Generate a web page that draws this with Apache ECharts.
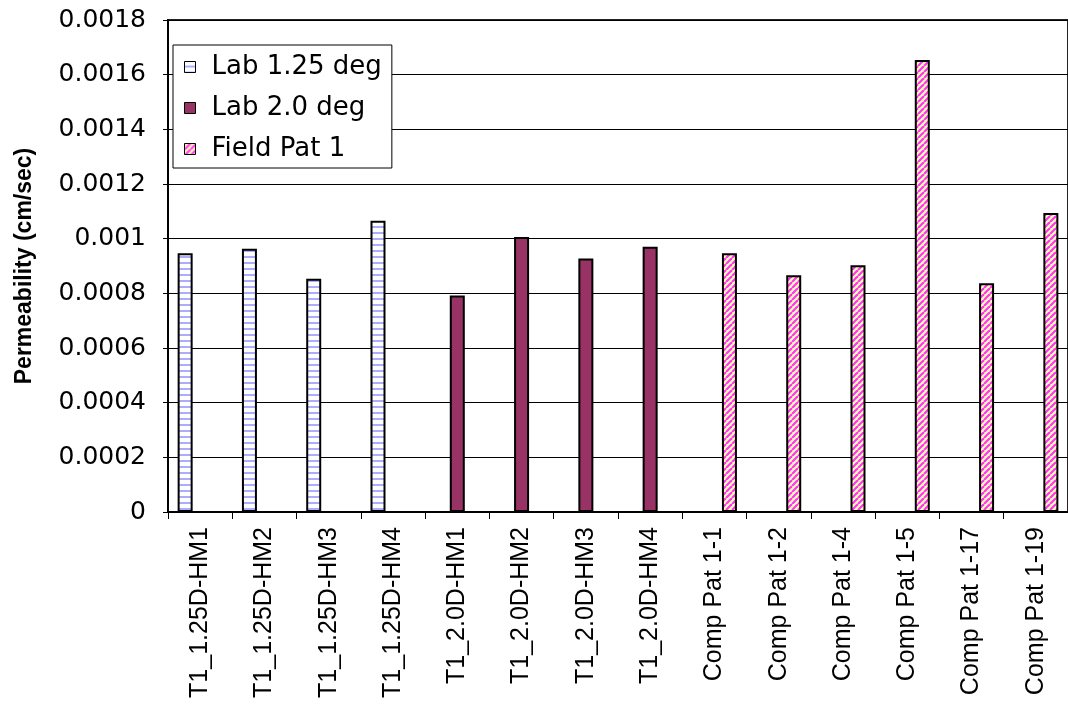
<!DOCTYPE html>
<html>
<head>
<meta charset="utf-8">
<script src="https://cdn.jsdelivr.net/npm/echarts@6/dist/echarts.min.js"></script>
<style>
  html, body { margin: 0; padding: 0; background: #fff; }
  #chart { width: 1068px; height: 705px; }
</style>
</head>
<body>
<div id="chart"></div>
<script>
var categories = [
  'T1_1.25D-HM1', 'T1_1.25D-HM2', 'T1_1.25D-HM3', 'T1_1.25D-HM4',
  'T1_2.0D-HM1', 'T1_2.0D-HM2', 'T1_2.0D-HM3', 'T1_2.0D-HM4',
  'Comp Pat 1-1', 'Comp Pat 1-2', 'Comp Pat 1-4', 'Comp Pat 1-5',
  'Comp Pat 1-17', 'Comp Pat 1-19'
];
var seriesNames = ['Lab 1.25 deg', 'Lab 2.0 deg', 'Field Pat 1'];
var lab125 = [0.000947, 0.000963, 0.000853, 0.001066, '-', '-', '-', '-', '-', '-', '-', '-', '-', '-'];
var lab20 = ['-', '-', '-', '-', 0.000792, 0.001006, 0.000927, 0.000970, '-', '-', '-', '-', '-', '-'];
var fieldPat1 = ['-', '-', '-', '-', '-', '-', '-', '-', 0.000947, 0.000866, 0.000903, 0.001654, 0.000837, 0.001094];
var yMin = 0, yMax = 0.0018, yStep = 0.0002;

// fill patterns like the old Excel ones
function stripes() {
  var c = document.createElement('canvas');
  c.width = 6; c.height = 6;
  var g = c.getContext('2d');
  g.fillStyle = '#fff';
  g.fillRect(0, 0, 6, 6);
  g.fillStyle = '#adadff';
  g.fillRect(0, 4, 6, 2);
  return c;
}
function hatch() {
  var c = document.createElement('canvas');
  c.width = 6; c.height = 6;
  var g = c.getContext('2d');
  g.fillStyle = '#ffffaa';
  g.fillRect(0, 0, 6, 6);
  g.strokeStyle = '#ff33ff';
  g.lineWidth = 2.2;
  [-6, 0, 6].forEach(function (k) {
    g.beginPath();
    g.moveTo(k, 6);
    g.lineTo(k + 6, 0);
    g.stroke();
  });
  return c;
}

var fills = [
  { image: stripes(), repeat: 'repeat' },
  '#993366',
  { image: hatch(), repeat: 'repeat' }
];
var values = [lab125, lab20, fieldPat1];

var chart = echarts.init(document.getElementById('chart'));
chart.setOption({
  animation: false,
  grid: {
    left: 168, right: -7, top: 20, bottom: 193,
    show: true, borderColor: '#222', borderWidth: 2, backgroundColor: 'transparent'
  },
  legend: {
    orient: 'vertical',
    left: 173, top: 45,
    padding: [9, 10, 6, 11],
    itemGap: 15,
    itemWidth: 11, itemHeight: 11,
    icon: 'rect',
    backgroundColor: '#fff',
    borderColor: '#000', borderWidth: 1,
    itemStyle: { borderColor: '#000', borderWidth: 1 },
    textStyle: {
      fontFamily: 'DejaVu Sans', fontSize: 26, color: '#000',
      lineHeight: 24, padding: [0, 0, 0, 11]
    },
    data: seriesNames
  },
  xAxis: {
    type: 'category',
    data: categories,
    axisLine: { lineStyle: { color: '#000', width: 2 } },
    axisTick: { show: true, length: 7, lineStyle: { color: '#000', width: 1 } },
    axisLabel: {
      interval: 0, rotate: 90, margin: 15,
      fontFamily: 'Liberation Sans', fontSize: 25, color: '#000'
    },
    splitLine: { show: false }
  },
  yAxis: {
    type: 'value',
    min: yMin, max: yMax, interval: yStep,
    name: 'Permeability (cm/sec)',
    nameLocation: 'middle',
    nameGap: 132,
    nameTextStyle: { fontFamily: 'Liberation Sans', fontWeight: 'bold', fontSize: 23, color: '#000' },
    axisLine: { show: true, lineStyle: { color: '#000', width: 2 } },
    axisTick: { show: true, length: 5, lineStyle: { color: '#000' } },
    axisLabel: {
      margin: 22,
      fontFamily: 'DejaVu Sans', fontSize: 25, color: '#000',
      formatter: function (v) { return String(parseFloat(v.toFixed(4))); }
    },
    splitLine: { lineStyle: { color: '#000', width: 1 } }
  },
  series: seriesNames.map(function (name, i) {
    return {
      name: name,
      type: 'bar',
      barWidth: 15,
      barGap: '0%',
      data: values[i],
      itemStyle: { color: fills[i], borderColor: '#000', borderWidth: 2 }
    };
  })
});
</script>
</body>
</html>
